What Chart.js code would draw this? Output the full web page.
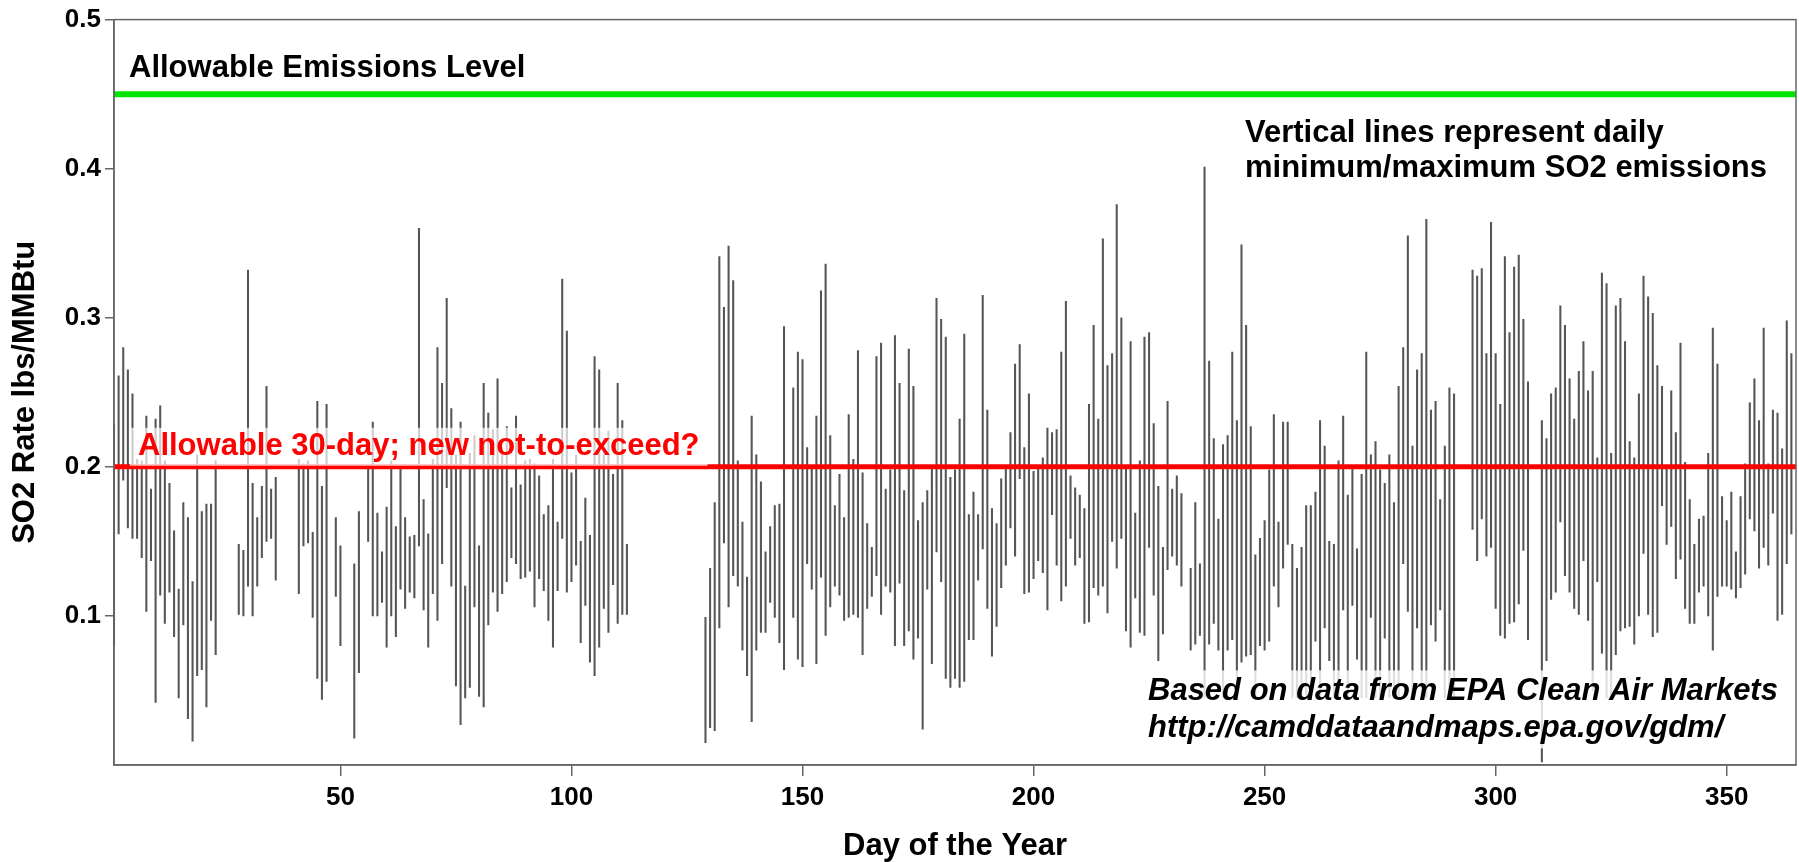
<!DOCTYPE html>
<html>
<head>
<meta charset="utf-8">
<script src="https://cdn.jsdelivr.net/npm/chart.js@4.4.1/dist/chart.umd.min.js"></script>
<style>
html, body { margin: 0; padding: 0; background: #fff; }
#wrap { width: 1799px; height: 862px; }
</style>
</head>
<body>
<div id="wrap"><canvas id="so2Chart" width="1799" height="862"></canvas></div>
<script>
// day of year 1..365
const days = Array.from({ length: 365 }, (_, i) => i + 1);

// daily maximum SO2 rate (lbs/MMBtu), null = no data
const highVals = [
  0.228,0.261,0.280,0.265,0.249,0.205,0.204,0.234,0.185,0.232,
  0.241,0.204,0.189,0.157,0.118,0.176,0.166,0.123,0.208,0.170,
  0.175,0.175,0.204,null,null,null,null,0.148,0.144,0.332,
  0.189,0.166,0.187,0.254,0.185,0.193,null,null,null,null,
  0.205,0.202,0.204,0.156,0.244,0.187,0.242,null,0.166,0.147,
  null,null,0.135,0.170,null,0.199,0.230,0.169,0.143,0.173,
  0.204,0.160,0.199,0.166,0.153,0.154,0.360,0.178,0.155,0.205,
  0.280,0.256,0.313,0.239,0.208,0.230,0.120,0.209,0.221,0.147,
  0.256,0.236,0.225,0.259,0.213,0.227,0.186,0.234,0.188,0.204,
  0.205,0.202,0.194,0.168,0.174,0.205,0.163,0.326,0.291,0.196,
  0.208,0.150,0.179,0.154,0.274,0.265,0.208,0.224,0.195,0.256,
  0.231,0.148,null,null,null,null,null,null,null,null,
  null,null,null,null,null,null,null,null,0.099,0.132,
  0.176,0.341,0.307,0.348,0.325,0.204,0.163,0.126,0.234,0.208,
  0.190,0.143,0.160,0.174,0.175,0.294,null,0.253,0.277,0.272,
  0.213,0.199,0.234,0.318,0.336,0.221,0.174,0.195,0.166,0.235,
  0.205,0.278,0.196,0.162,0.146,0.274,0.283,0.185,0.198,0.288,
  0.256,0.184,0.279,0.254,0.164,0.176,0.184,0.199,0.313,0.299,
  0.287,0.193,0.198,0.232,0.289,0.168,0.183,0.168,0.315,0.238,
  0.172,0.162,0.192,0.199,0.223,0.269,0.282,0.213,0.249,0.197,
  0.199,0.206,0.226,0.223,0.225,0.277,0.311,0.194,0.186,0.181,
  0.172,0.242,0.295,0.232,0.353,0.268,0.276,0.376,0.300,0.200,
  0.284,0.169,0.204,0.287,0.290,0.229,0.187,0.146,0.244,0.185,
  0.194,0.182,null,0.132,0.176,0.135,0.401,0.271,0.219,0.165,
  0.215,0.221,0.277,0.231,0.349,0.295,0.227,0.141,0.152,0.164,
  0.198,0.235,0.163,0.230,0.230,0.148,0.132,0.146,0.174,0.174,
  0.183,0.231,0.214,0.150,0.148,0.204,0.234,0.181,0.201,0.145,
  0.195,0.277,0.208,0.217,0.198,0.189,0.208,0.176,0.254,0.280,
  0.355,0.214,0.265,0.276,0.366,0.238,0.244,0.178,0.214,0.253,
  0.249,null,null,null,0.332,0.328,0.333,0.276,0.364,0.276,
  0.242,0.341,0.290,0.334,0.342,0.299,0.257,null,null,0.231,
  0.219,0.249,0.253,0.308,0.295,0.259,0.232,0.264,0.284,0.251,
  0.264,0.206,0.330,0.323,0.209,0.308,0.313,0.284,0.217,0.206,
  0.249,0.328,0.314,0.303,0.268,0.254,0.201,0.251,0.223,0.283,
  0.203,0.178,0.148,0.165,0.167,0.209,0.293,0.269,0.180,0.164,
  0.183,0.143,0.180,0.202,0.243,0.259,0.231,0.293,0.202,0.238,
  0.236,0.212,0.298,0.276,null
];

// daily minimum SO2 rate (lbs/MMBtu)
const lowVals = [
  0.080,0.155,0.191,0.159,0.152,0.152,0.139,0.103,0.137,0.042,
  0.114,0.095,0.116,0.086,0.045,0.094,0.031,0.016,0.060,0.064,
  0.039,0.097,0.074,null,null,null,null,0.101,0.100,0.120,
  0.100,0.120,0.139,0.150,0.152,0.124,null,null,null,null,
  0.115,0.147,0.149,0.099,0.058,0.044,0.056,null,0.113,0.080,
  null,null,0.018,0.062,null,0.150,0.100,0.100,0.109,0.079,
  0.100,0.086,0.118,0.105,0.116,0.112,0.147,0.104,0.079,0.115,
  0.097,0.135,0.186,0.120,0.053,0.027,0.045,0.052,0.106,0.046,
  0.039,0.094,0.116,0.103,0.115,0.123,0.139,0.135,0.125,0.126,
  0.130,0.106,0.125,0.117,0.097,0.079,0.117,0.152,0.116,0.123,
  0.134,0.082,0.107,0.069,0.060,0.079,0.105,0.089,0.121,0.095,
  0.101,0.101,null,null,null,null,null,null,null,null,
  null,null,null,null,null,null,null,null,0.015,0.025,
  0.023,0.092,0.149,0.106,0.127,0.120,0.077,0.060,0.029,0.077,
  0.089,0.089,0.109,0.099,0.082,0.064,null,0.099,0.071,0.066,
  0.135,0.118,0.068,0.126,0.087,0.106,0.120,0.114,0.097,0.099,
  0.101,0.099,0.074,0.105,0.113,0.127,0.101,0.120,0.116,0.080,
  0.122,0.080,0.090,0.071,0.085,0.024,0.118,0.068,0.143,0.123,
  0.058,0.052,0.058,0.052,0.056,0.084,0.084,0.124,0.145,0.105,
  0.073,0.093,0.119,0.134,0.159,0.140,0.192,0.115,0.116,0.125,
  0.137,0.129,0.104,0.168,0.134,0.110,0.120,0.152,0.134,0.139,
  0.095,0.096,0.119,0.114,0.120,0.102,0.150,0.132,0.152,0.090,
  0.079,0.112,0.089,0.087,0.146,0.114,0.070,0.088,0.131,0.140,
  0.134,0.120,null,0.077,0.081,0.087,0.045,0.081,0.095,0.077,
  0.045,0.077,0.084,0.045,0.069,0.073,0.074,0.045,0.080,0.077,
  0.083,0.120,0.106,0.132,0.148,0.045,0.045,0.045,0.045,0.045,
  0.083,0.045,0.092,0.070,0.045,0.045,0.104,0.045,0.107,0.071,
  0.045,0.045,0.099,0.045,0.045,0.085,0.045,0.045,0.045,0.135,
  0.103,0.045,0.092,0.045,0.045,0.094,0.083,0.104,0.045,0.045,
  0.045,null,null,null,0.158,0.137,0.165,0.140,0.146,0.105,
  0.087,0.085,0.095,0.096,0.108,0.144,0.084,null,null,0.002,
  0.070,0.111,0.116,0.163,0.127,0.116,0.105,0.101,0.137,0.097,
  0.050,0.123,0.075,0.045,0.045,0.074,0.090,0.092,0.093,0.081,
  0.100,0.142,0.101,0.086,0.089,0.174,0.148,0.160,0.125,0.138,
  0.105,0.095,0.095,0.116,0.120,0.100,0.077,0.113,0.120,0.120,
  0.118,0.112,0.119,0.128,0.165,0.157,0.132,0.146,0.134,0.169,
  0.097,0.101,0.135,0.155,null
];

const yTicks = [0.1, 0.2, 0.3, 0.4, 0.5];
const xTicks = [50, 100, 150, 200, 250, 300, 350];
const allowableLevel = 0.45;
const thirtyDayLevel = 0.2;

const FONT = "'Liberation Sans', Arial, sans-serif";

document.addEventListener("DOMContentLoaded", function() {
    const ctx = document.getElementById('so2Chart').getContext('2d');

    // floating bars min..max per day
    const rangeData = [];
    days.forEach((d, i) => {
        if (highVals[i] !== null && lowVals[i] !== null) {
            rangeData.push({ x: d, y: [lowVals[i], highVals[i]] });
        }
    });

    // white-backed text helper
    function boxedText(c, lines, x, y0, lh, font, color, alpha) {
        c.font = font;
        let w = 0;
        lines.forEach(t => { w = Math.max(w, c.measureText(t).width); });
        const top = y0 - lh * 0.8;
        const h = lh * lines.length + 4;
        c.fillStyle = 'rgba(255,255,255,' + alpha + ')';
        c.fillRect(x - 8, top, w + 16, h);
        c.fillStyle = color;
        c.textAlign = 'left';
        c.textBaseline = 'alphabetic';
        lines.forEach((t, k) => c.fillText(t, x, y0 + k * lh));
    }

    const textos = {
        id: 'textos',
        afterDatasetsDraw(chart) {
            const c = chart.ctx;
            const a = chart.chartArea;
            c.save();
            boxedText(c, ['Allowable 30-day; new not-to-exceed?'], a.left + 24, 455, 34,
                'bold 31px ' + FONT, '#ff0000', 0.7);
            boxedText(c, ['Based on data from EPA Clean Air Markets', 'http://camddataandmaps.epa.gov/gdm/'],
                a.left + 1034, 700, 37, 'italic bold 31px ' + FONT, '#000', 0.8);
            c.font = 'bold 31px ' + FONT;
            c.fillStyle = '#000';
            c.fillText('Allowable Emissions Level', a.left + 15, 77);
            c.fillText('Vertical lines represent daily', a.left + 1131, 142);
            c.fillText('minimum/maximum SO2 emissions', a.left + 1131, 177);
            c.restore();
        },
        afterDraw(chart) {
            const c = chart.ctx;
            const a = chart.chartArea;
            c.save();
            // frame round the plot
            c.strokeStyle = '#666';
            c.lineWidth = 1.5;
            c.strokeRect(a.left, a.top, a.right - a.left, a.bottom - a.top);
            // axis titles
            c.fillStyle = '#000';
            c.font = 'bold 31px ' + FONT;
            c.textAlign = 'center';
            c.textBaseline = 'middle';
            c.fillText('Day of the Year', (a.left + a.right) / 2, 846);
            c.translate(25, (a.top + a.bottom) / 2);
            c.rotate(-Math.PI / 2);
            c.fillText('SO2 Rate lbs/MMBtu', 0, 0);
            c.restore();
        }
    };

    new Chart(ctx, {
        type: 'bar',
        data: {
            datasets: [
                {
                    label: 'Min/Max',
                    data: rangeData,
                    backgroundColor: '#555555',
                    barThickness: 1.4,
                    order: 2
                },
                {
                    type: 'line',
                    label: 'Allowable',
                    data: [{ x: 1, y: allowableLevel }, { x: 365, y: allowableLevel }],
                    borderColor: '#00e600',
                    borderWidth: 6,
                    pointRadius: 0,
                    order: 1
                },
                {
                    type: 'line',
                    label: '30-day',
                    data: [{ x: 1, y: thirtyDayLevel }, { x: 365, y: thirtyDayLevel }],
                    borderColor: '#ff0000',
                    borderWidth: 5,
                    pointRadius: 0,
                    order: 1
                }
            ]
        },
        plugins: [textos],
        options: {
            responsive: false,
            animation: false,
            layout: { padding: { top: 19, right: 3, left: 0, bottom: 0 } },
            plugins: {
                legend: { display: false },
                tooltip: { enabled: false }
            },
            scales: {
                x: {
                    type: 'linear',
                    min: 1,
                    max: 365,
                    offset: false,
                    afterBuildTicks: s => { s.ticks = xTicks.map(v => ({ value: v })); },
                    afterFit: s => { s.height = 97; },
                    grid: { display: true, drawOnChartArea: false, offset: false, tickLength: 11, color: '#666', lineWidth: 1.5 },
                    border: { display: true, color: '#666', width: 1.5 },
                    ticks: {
                        color: '#000',
                        padding: 6,
                        maxRotation: 0,
                        font: { family: FONT, weight: 'bold', size: 26 }
                    }
                },
                y: {
                    min: 0,
                    max: 0.5,
                    afterBuildTicks: s => { s.ticks = yTicks.map(v => ({ value: v })); },
                    afterFit: s => { s.width = 114; },
                    grid: { display: true, drawOnChartArea: false, tickLength: 9, color: '#666', lineWidth: 1.5 },
                    border: { display: true, color: '#666', width: 1.5 },
                    ticks: {
                        color: '#000',
                        padding: 4,
                        callback: v => v.toFixed(1),
                        font: { family: FONT, weight: 'bold', size: 26 }
                    }
                }
            }
        }
    });
});
</script>
</body>
</html>
